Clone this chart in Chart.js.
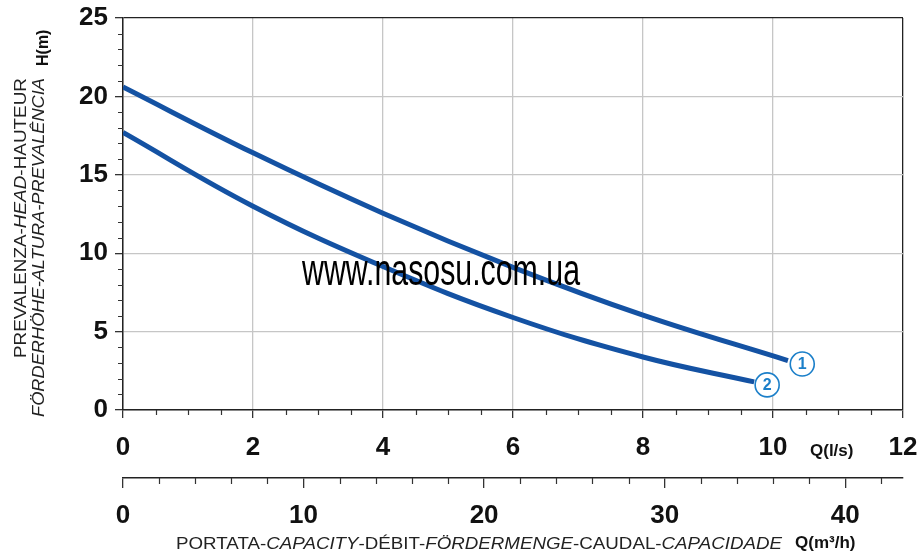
<!DOCTYPE html>
<html>
<head>
<meta charset="utf-8">
<script src="https://cdn.jsdelivr.net/npm/chart.js@4.4.0/dist/chart.umd.min.js"></script>
<style>
  html, body { margin: 0; padding: 0; background: #fff; }
  #wrap { width: 919px; height: 554px; position: relative; }
</style>
</head>
<body>
<div id="wrap"><canvas id="pump-chart"></canvas></div>
<script>
  // curve 1 (l/s, m)
  var flow1 = [0, 2, 4, 6, 8, 10.23];
  var head1 = [20.6, 16.4, 12.55, 9.1, 6.05, 3.15];
  // curve 2
  var flow2 = [0, 2, 4, 6, 8, 9.71];
  var head2 = [17.7, 13.0, 9.15, 5.9, 3.38, 1.79];
  // circled curve numbers
  var tagNames = ['1', '2'];
  var tagFlow = [10.45, 9.91];
  var tagHead = [2.93, 1.6];

  var cubicTicks = [0, 10, 20, 30, 40];
  var LS_TO_M3H = 3.6;

  var yTitle1 = [['PREVALENZA-', false], ['HEAD', true], ['-HAUTEUR', false]];
  var yTitle2 = [['FÖRDERHÖHE-ALTURA-PREVALÊNCIA', true]];
  var xTitle = [['PORTATA-', false], ['CAPACITY', true], ['-DÉBIT-', false], ['FÖRDERMENGE', true],
                ['-CAUDAL-', false], ['CAPACIDADE', true]];

  var FONT = '"Liberation Sans", Arial, sans-serif';
  var curveColor = '#1452a3';
  var tagColor = '#1b7fc9';
  var gridGray = '#c6c6c6';

  function toPoints(xs, ys) {
    return xs.map(function (x, i) { return { x: x, y: ys[i] }; });
  }

  // draws a run of text parts (some italic) squeezed to a given width
  function drawParts(ctx, parts, size, width) {
    var total = 0;
    parts.forEach(function (p) {
      ctx.font = (p[1] ? 'italic ' : '') + size + 'px ' + FONT;
      total += ctx.measureText(p[0]).width;
    });
    ctx.scale(width / total, 1);
    var x = 0;
    parts.forEach(function (p) {
      ctx.font = (p[1] ? 'italic ' : '') + size + 'px ' + FONT;
      ctx.fillText(p[0], x, 0);
      x += ctx.measureText(p[0]).width;
    });
  }

  // keep tick labels from pushing the plot area around
  function noOverflow(s) {
    s.paddingLeft = 0; s.paddingRight = 0; s.paddingTop = 0; s.paddingBottom = 0;
  }

  var decorations = {
    id: 'decorations',
    afterDatasetsDraw: function (chart) {
      var ctx = chart.ctx;
      var xs = chart.scales.x, x2 = chart.scales.x2, ys = chart.scales.y;
      var v;

      // minor ticks
      ctx.save();
      ctx.strokeStyle = '#333';
      ctx.lineWidth = 1.2;
      ctx.beginPath();
      for (v = 1; v < 25; v++) {
        if (v % 5 === 0) continue;
        var py = Math.round(ys.getPixelForValue(v)) + 0.5;
        ctx.moveTo(xs.left - 5, py); ctx.lineTo(xs.left, py);
      }
      for (v = 0.5; v < 12; v += 0.5) {
        if (v % 2 === 0) continue;
        var px = Math.round(xs.getPixelForValue(v)) + 0.5;
        ctx.moveTo(px, ys.bottom); ctx.lineTo(px, ys.bottom + 5);
      }
      for (v = 2; v < 43.2; v += 2) {
        if (v % 10 === 0) continue;
        var qx = Math.round(x2.getPixelForValue(v)) + 0.5;
        ctx.moveTo(qx, x2.top); ctx.lineTo(qx, x2.top + 6);
      }
      ctx.stroke();
      ctx.restore();

      // circled curve numbers
      tagNames.forEach(function (name, i) {
        var cx = xs.getPixelForValue(tagFlow[i]);
        var cy = ys.getPixelForValue(tagHead[i]);
        ctx.save();
        ctx.beginPath();
        ctx.arc(cx, cy, 12, 0, Math.PI * 2);
        ctx.fillStyle = '#fff';
        ctx.fill();
        ctx.lineWidth = 1.6;
        ctx.strokeStyle = tagColor;
        ctx.stroke();
        ctx.fillStyle = tagColor;
        ctx.font = 'bold 16px ' + FONT;
        ctx.textAlign = 'center';
        ctx.textBaseline = 'middle';
        ctx.fillText(name, cx, cy + 1);
        ctx.restore();
      });

      // watermark
      ctx.save();
      ctx.fillStyle = '#000';
      ctx.textBaseline = 'alphabetic';
      ctx.translate(302, 285);
      drawParts(ctx, [['www.nasosu.com.ua', false]], 44, 278);
      ctx.restore();

      // axis titles
      ctx.save();
      ctx.fillStyle = '#222';
      ctx.textBaseline = 'middle';
      ctx.save();
      ctx.translate(21, 358);
      ctx.rotate(-Math.PI / 2);
      drawParts(ctx, yTitle1, 17, 280);
      ctx.restore();
      ctx.save();
      ctx.translate(39, 417);
      ctx.rotate(-Math.PI / 2);
      drawParts(ctx, yTitle2, 17, 339);
      ctx.restore();
      ctx.save();
      ctx.translate(176, 545);
      drawParts(ctx, xTitle, 16, 606);
      ctx.restore();

      ctx.fillStyle = '#111';
      ctx.save();
      ctx.translate(44, 66);
      ctx.rotate(-Math.PI / 2);
      ctx.font = 'bold 16px ' + FONT;
      ctx.fillText('H(m)', 0, 0);
      ctx.restore();
      ctx.font = 'bold 17px ' + FONT;
      ctx.fillText('Q(l/s)', 810, 451);
      ctx.fillText('Q(m³/h)', 795, 543);
      ctx.restore();
    }
  };

  function lineColor(max) {
    return function (c) {
      return c.tick && c.tick.value === max ? '#222' : gridGray;
    };
  }

  var tickFont = { family: FONT, size: 26, weight: 'bold' };

  var ctx = document.getElementById('pump-chart').getContext('2d');
  window.pumpChart = new Chart(ctx, {
    type: 'line',
    data: {
      datasets: [
        { data: toPoints(flow1, head1), borderColor: curveColor, borderWidth: 5, pointRadius: 0, tension: 0.4, fill: false },
        { data: toPoints(flow2, head2), borderColor: curveColor, borderWidth: 5, pointRadius: 0, tension: 0.4, fill: false }
      ]
    },
    options: {
      responsive: true,
      maintainAspectRatio: false,
      animation: false,
      devicePixelRatio: 1,
      layout: { padding: { top: 18, right: 16, left: 0, bottom: 0 } },
      plugins: { legend: { display: false }, tooltip: { enabled: false } },
      scales: {
        x: {
          type: 'linear', position: 'bottom', weight: 0,
          min: 0, max: 12,
          ticks: { stepSize: 2, padding: 14, color: '#111', font: tickFont },
          grid: { color: lineColor(12), tickColor: '#333', tickLength: 8, lineWidth: 1.3 },
          border: { color: '#222', width: 1.5 },
          afterFit: function (s) { s.height = 68; noOverflow(s); }
        },
        x2: {
          type: 'linear', position: 'bottom', weight: 1,
          min: 0, max: 12 * LS_TO_M3H,
          afterBuildTicks: function (s) { s.ticks = cubicTicks.map(function (t) { return { value: t }; }); },
          ticks: { padding: 12, color: '#111', font: tickFont },
          grid: { drawOnChartArea: false, tickColor: '#333', tickLength: 10, lineWidth: 1.3 },
          border: { color: '#222', width: 1.5 },
          afterFit: function (s) { s.height = 76; noOverflow(s); }
        },
        y: {
          min: 0, max: 25,
          ticks: { stepSize: 5, padding: 7, color: '#111', font: tickFont },
          grid: { color: lineColor(25), tickColor: '#333', tickLength: 8, lineWidth: 1.3 },
          border: { color: '#222', width: 1.5 },
          afterFit: function (s) { s.width = 123; noOverflow(s); }
        }
      }
    },
    plugins: [decorations]
  });
</script>
</body>
</html>
